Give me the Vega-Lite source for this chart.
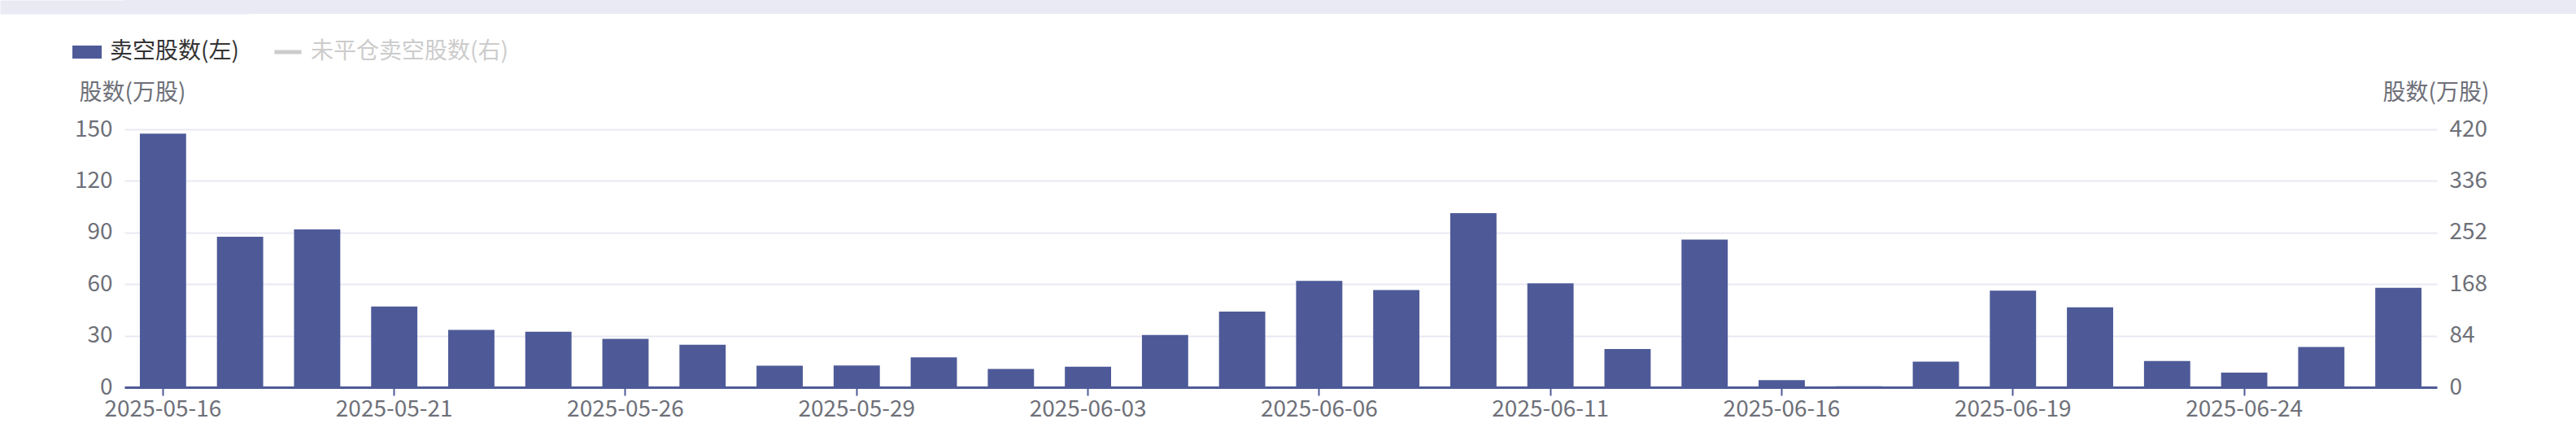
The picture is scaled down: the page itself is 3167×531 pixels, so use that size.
{
  "$schema": "https://vega.github.io/schema/vega-lite/v6.json",
  "padding": {"left": 0, "top": 0, "right": 0, "bottom": 12},
  "background": "white",
  "spacing": 29,
  "config": {"view": {"stroke": null}, "font": "Noto Sans CJK SC"},
  "resolve": {"scale": {"color": "independent"}, "legend": {"color": "independent"}},
  "vconcat": [
    {
      "width": 3014,
      "height": 17,
      "view": {"fill": "#eaeaf5", "stroke": null},
      "data": {"values": []},
      "mark": {"type": "rect"},
      "encoding": {
        "y": {
          "datum": 0, "type": "quantitative",
          "scale": {"domain": [0, 1]},
          "axis": {
            "orient": "left", "title": null, "labels": false, "ticks": false, "grid": false,
            "domain": true, "domainColor": "#eaeaf5", "domainWidth": 306, "domainCap": "butt"
          }
        }
      }
    },
    {
      "width": 2843,
      "height": 317,
      "data": {"values": [
        {"date": "2025-05-16", "short": 147.5},
        {"date": "2025-05-19", "short": 87.5},
        {"date": "2025-05-20", "short": 91.8},
        {"date": "2025-05-21", "short": 47.0},
        {"date": "2025-05-22", "short": 33.4},
        {"date": "2025-05-23", "short": 32.3},
        {"date": "2025-05-26", "short": 28.2},
        {"date": "2025-05-27", "short": 24.7},
        {"date": "2025-05-28", "short": 12.5},
        {"date": "2025-05-29", "short": 12.7},
        {"date": "2025-05-30", "short": 17.4},
        {"date": "2025-06-02", "short": 10.6},
        {"date": "2025-06-03", "short": 12.0},
        {"date": "2025-06-04", "short": 30.4},
        {"date": "2025-06-05", "short": 44.0},
        {"date": "2025-06-06", "short": 61.9},
        {"date": "2025-06-09", "short": 56.6},
        {"date": "2025-06-10", "short": 101.3},
        {"date": "2025-06-11", "short": 60.4},
        {"date": "2025-06-12", "short": 22.2},
        {"date": "2025-06-13", "short": 85.9},
        {"date": "2025-06-16", "short": 4.1},
        {"date": "2025-06-17", "short": 0.6},
        {"date": "2025-06-18", "short": 14.9},
        {"date": "2025-06-19", "short": 56.2},
        {"date": "2025-06-20", "short": 46.5},
        {"date": "2025-06-23", "short": 15.3},
        {"date": "2025-06-24", "short": 8.5},
        {"date": "2025-06-25", "short": 23.4},
        {"date": "2025-06-26", "short": 57.8}
      ]},
      "layer": [
        {
          "mark": {"type": "bar"},
          "encoding": {
            "x": {
              "field": "date", "type": "ordinal",
              "scale": {"paddingInner": 0.4, "paddingOuter": 0.2},
              "axis": {
                "values": ["2025-05-16", "2025-05-21", "2025-05-26", "2025-05-29", "2025-06-03", "2025-06-06", "2025-06-11", "2025-06-16", "2025-06-19", "2025-06-24"],
                "labelAngle": 0, "grid": false,
                "title": " ", "titleX": -153, "titleY": -150, "titleAlign": "left", "titleFontSize": 12,
                "domainColor": "#4e5a98", "domainWidth": 3,
                "tickColor": "#4e5a98", "tickWidth": 2, "tickSize": 10,
                "labelFontSize": 28, "labelColor": "#6e7079", "labelPadding": 3,
                "zindex": 1
              }
            },
            "y": {
              "field": "short", "type": "quantitative",
              "scale": {"domain": [0, 150], "nice": false},
              "axis": {
                "values": [0, 30, 60, 90, 120, 150],
                "grid": true, "gridColor": "#e9e9f4", "gridWidth": 2,
                "domain": false, "ticks": false,
                "labelFontSize": 28, "labelColor": "#6e7079", "labelPadding": 15,
                "title": "股数(万股)", "titleAngle": 0, "titleAlign": "left", "titleBaseline": "middle",
                "titleX": -56, "titleY": -45, "titleFontSize": 28, "titleFontWeight": "normal", "titleColor": "#6e7079"
              }
            },
            "color": {
              "datum": "卖空股数(左)",
              "scale": {"domain": ["卖空股数(左)", "未平仓卖空股数(右)"], "range": ["#4e5a98", "#cccccc"]},
              "legend": {
                "orient": "none", "legendX": -64, "legendY": -113, "direction": "horizontal",
                "title": null, "padding": 0,
                "labelFontSize": 28, "labelOffset": 10, "columnPadding": 42, "labelLimit": 600,
                "symbolSize": 1296, "symbolStrokeWidth": 0,
                "symbolType": {"expr": "datum.label === '卖空股数(左)' ? 'M-1,-0.44H1V0.44H-1Z' : 'M-0.92,-0.14H0.92V0.14H-0.92Z'"},
                "labelColor": {"expr": "datum.label === '卖空股数(左)' ? '#333333' : '#cccccc'"}
              }
            }
          }
        },
        {
          "mark": {"type": "point", "opacity": 0},
          "encoding": {
            "x": {"field": "date", "type": "ordinal"},
            "y": {
              "datum": 0, "type": "quantitative",
              "scale": {"domain": [0, 420], "nice": false},
              "axis": {
                "orient": "right",
                "values": [0, 84, 168, 252, 336, 420],
                "grid": false, "domain": false, "ticks": false,
                "labelFontSize": 28, "labelColor": "#6e7079", "labelPadding": 15,
                "title": "股数(万股)", "titleAngle": 0, "titleAlign": "right", "titleBaseline": "middle",
                "titleX": 64, "titleY": -45, "titleFontSize": 28, "titleFontWeight": "normal", "titleColor": "#6e7079"
              }
            }
          }
        }
      ],
      "resolve": {"scale": {"y": "independent"}}
    }
  ]
}
